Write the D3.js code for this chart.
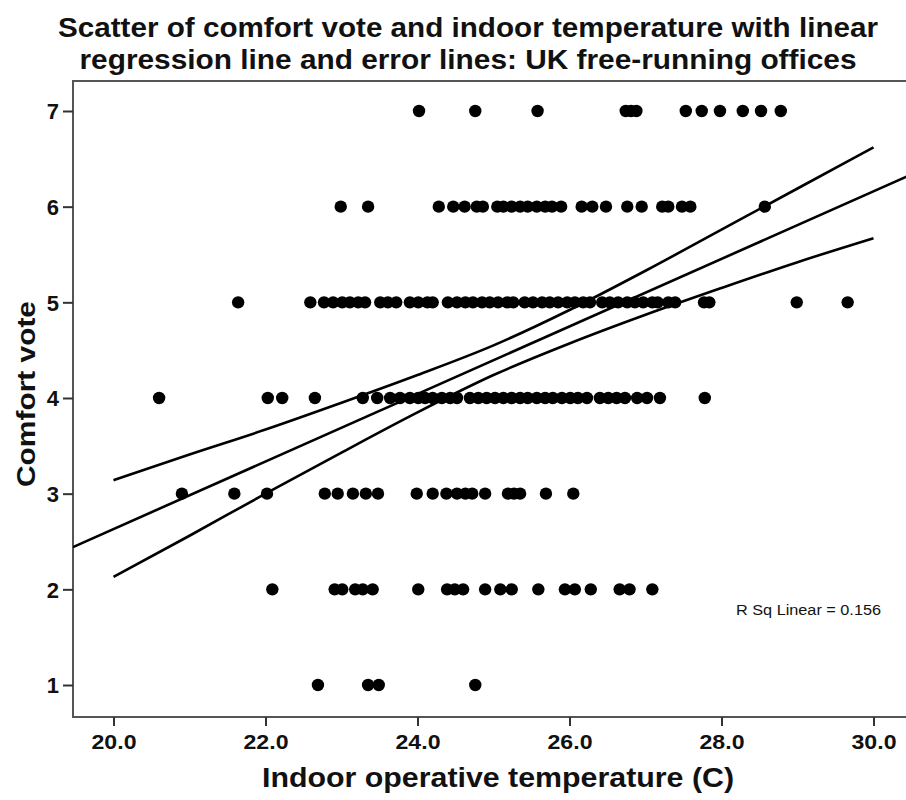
<!DOCTYPE html>
<html>
<head>
<meta charset="utf-8">
<script src="https://cdn.jsdelivr.net/npm/d3@7"></script>
<style>
  html, body { margin: 0; padding: 0; background: #fff; }
  svg { display: block; }
  text { font-family: "Liberation Sans", Arial, sans-serif; fill: #111; }
</style>
</head>
<body>
<div id="chart"></div>
<script>
// ---------------- data ----------------
const titleLines = [
  "Scatter of comfort vote and indoor temperature with linear",
  "regression line and error lines: UK free-running offices"
];
const xLabel = "Indoor operative temperature (C)";
const yLabel = "Comfort vote";
const xTicks = [20, 22, 24, 26, 28, 30];
const yTicks = [1, 2, 3, 4, 5, 6, 7];
const rSqLabel = "R Sq Linear = 0.156";

// temperatures (C) of each vote, grouped by vote value
const vote7 = [24.02, 24.76, 25.58, 26.74, 26.81, 26.88, 27.53, 27.74, 27.98, 28.28, 28.52, 28.78];
const vote6 = [22.99, 23.35, 24.28, 24.47, 24.62, 24.78, 24.86, 25.05, 25.13, 25.24, 25.35, 25.45,
               25.57, 25.68, 25.77, 25.89, 26.16, 26.30, 26.48, 26.76, 26.95, 27.22, 27.30, 27.48,
               27.59, 28.57];
const vote5 = [21.64, 22.59, 22.77, 22.89, 23.01, 23.11, 23.22, 23.31, 23.51, 23.61, 23.72, 23.90,
               24.01, 24.13, 24.20, 24.40, 24.52, 24.63, 24.73, 24.85, 24.95, 25.06, 25.18, 25.26,
               25.41, 25.52, 25.64, 25.74, 25.85, 25.97, 26.07, 26.18, 26.27, 26.43, 26.53, 26.64,
               26.76, 26.86, 26.97, 27.09, 27.16, 27.30, 27.39, 27.77, 27.84, 28.99, 29.66];
const vote4 = [20.60, 22.03, 22.22, 22.65, 23.28, 23.47, 23.64, 23.77, 23.90, 24.01, 24.10, 24.20,
               24.32, 24.43, 24.52, 24.69, 24.80, 24.91, 25.02, 25.13, 25.24, 25.35, 25.45, 25.57,
               25.68, 25.78, 25.90, 26.01, 26.11, 26.23, 26.40, 26.51, 26.62, 26.73, 26.89, 27.02,
               27.19, 27.78];
const vote3 = [20.90, 21.59, 22.02, 22.78, 22.95, 23.15, 23.32, 23.48, 23.99, 24.20, 24.38, 24.52,
               24.63, 24.72, 24.89, 25.19, 25.27, 25.35, 25.69, 26.05];
const vote2 = [22.09, 22.91, 23.01, 23.18, 23.28, 23.41, 24.01, 24.39, 24.49, 24.60, 24.89, 25.09,
               25.24, 25.59, 25.94, 26.07, 26.28, 26.66, 26.79, 27.09];
const vote1 = [22.69, 23.35, 23.49, 24.76];

// fitted regression line: vote = intercept + slope * temperature
const regIntercept = -4.43;
const regSlope = 0.353;
// error (confidence) lines: temperature and vote values
const bandTemps = [20, 21, 22, 23, 24, 25, 26, 27, 28, 29, 30];
const bandUpper = [3.14, 3.41, 3.67, 3.95, 4.24, 4.55, 4.92, 5.33, 5.76, 6.19, 6.62];
const bandLower = [2.13, 2.56, 3.00, 3.43, 3.85, 4.24, 4.57, 4.87, 5.15, 5.42, 5.67];

// ---------------- layout ----------------
const W = 906, H = 800;
const frame = { left: 73, right: 916, top: 81, bottom: 717 };

const svg = d3.select("#chart").append("svg").attr("width", W).attr("height", H);

const x = d3.scaleLinear().domain([20, 30]).range([113.5, 873.5]);
const y = d3.scaleLinear().domain([1, 7]).range([685, 111]);

// clip for plot area
svg.append("defs").append("clipPath").attr("id", "plotclip")
  .append("rect").attr("x", frame.left).attr("y", frame.top)
  .attr("width", frame.right - frame.left).attr("height", frame.bottom - frame.top);

// frame
svg.append("rect")
  .attr("x", frame.left).attr("y", frame.top)
  .attr("width", frame.right - frame.left).attr("height", frame.bottom - frame.top)
  .attr("fill", "none").attr("stroke", "#555").attr("stroke-width", 2);

// axes
const xAxis = d3.axisBottom(x).tickValues(xTicks).tickFormat(d3.format(".1f")).tickSize(9).tickSizeOuter(0);
const gx = svg.append("g").attr("transform", `translate(0,${frame.bottom})`).call(xAxis);
gx.select(".domain").remove();
gx.selectAll(".tick line").attr("stroke", "#333").attr("stroke-width", 2);
gx.selectAll(".tick text")
  .attr("y", 17).attr("dy", "0.71em")
  .attr("font-size", 21).attr("font-weight", "bold")
  .attr("textLength", 45).attr("lengthAdjust", "spacingAndGlyphs")
  .style("font-family", "'Liberation Sans', Arial, sans-serif").attr("fill", "#111");

const yAxis = d3.axisLeft(y).tickValues(yTicks).tickFormat(d3.format("d")).tickSize(10).tickSizeOuter(0);
const gy = svg.append("g").attr("transform", `translate(${frame.left},0)`).call(yAxis);
gy.select(".domain").remove();
gy.selectAll(".tick line").attr("stroke", "#333").attr("stroke-width", 2);
gy.selectAll(".tick text")
  .attr("x", -14).attr("dy", "0.36em")
  .attr("font-size", 22).attr("font-weight", "bold")
  .style("font-family", "'Liberation Sans', Arial, sans-serif").attr("fill", "#111");

// points
const rows = [[1, vote1], [2, vote2], [3, vote3], [4, vote4], [5, vote5], [6, vote6], [7, vote7]];
const points = rows.flatMap(([v, arr]) => arr.map(t => ({ t, v })));
svg.append("g").attr("clip-path", "url(#plotclip)")
  .selectAll("circle").data(points).join("circle")
  .attr("cx", d => x(d.t)).attr("cy", d => y(d.v)).attr("r", 6.2)
  .attr("fill", "#000");

// regression + error lines
const straight = d3.line().x(d => x(d[0])).y(d => y(d[1]));
const smooth = d3.line().x(d => x(d[0])).y(d => y(d[1])).curve(d3.curveMonotoneX);
const xLo = x.invert(frame.left), xHi = x.invert(frame.right);
const regLine = [xLo, xHi].map(t => [t, regIntercept + regSlope * t]);
const gl = svg.append("g").attr("clip-path", "url(#plotclip)");
gl.append("path").attr("d", straight(regLine))
  .attr("fill", "none").attr("stroke", "#000").attr("stroke-width", 2.6);
[bandUpper, bandLower].forEach(vals => {
  gl.append("path").attr("d", smooth(bandTemps.map((t, i) => [t, vals[i]])))
    .attr("fill", "none").attr("stroke", "#000").attr("stroke-width", 2.6);
});

// R Sq annotation
svg.append("text")
  .attr("x", 736).attr("y", 615)
  .attr("font-size", 15.5)
  .attr("textLength", 145).attr("lengthAdjust", "spacingAndGlyphs")
  .text(rSqLabel);

// title
const titleY = [37, 69];
const titleW = [820, 777];
titleLines.forEach((s, i) => {
  svg.append("text")
    .attr("x", 468).attr("y", titleY[i]).attr("text-anchor", "middle")
    .attr("font-size", 27).attr("font-weight", "bold")
    .attr("textLength", titleW[i]).attr("lengthAdjust", "spacingAndGlyphs")
    .text(s);
});

// axis titles
svg.append("text")
  .attr("x", 498).attr("y", 787).attr("text-anchor", "middle")
  .attr("font-size", 27).attr("font-weight", "bold")
  .attr("textLength", 472).attr("lengthAdjust", "spacingAndGlyphs")
  .text(xLabel);

svg.append("text")
  .attr("transform", `translate(35,${394}) rotate(-90)`)
  .attr("text-anchor", "middle")
  .attr("font-size", 25).attr("font-weight", "bold")
  .attr("textLength", 186).attr("lengthAdjust", "spacingAndGlyphs")
  .text(yLabel);
</script>
</body>
</html>
